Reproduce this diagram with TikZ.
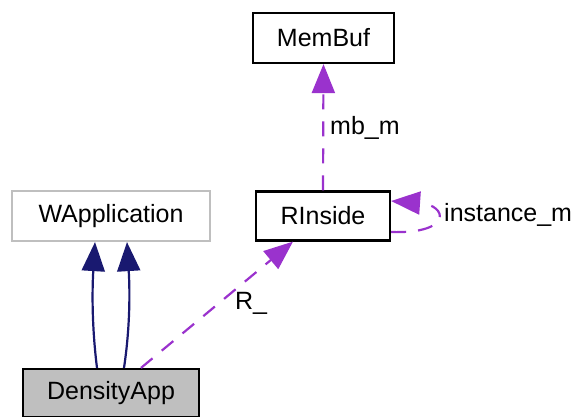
\documentclass[tikz,border=0pt]{standalone}
\usepackage{fontspec}
\setmainfont{Liberation Sans}
\usetikzlibrary{arrows.meta,calc}
\definecolor{navy}{HTML}{191970}
\definecolor{orch}{HTML}{9A32CD}
\definecolor{lgray}{HTML}{BFBFBF}
\begin{document}
\begin{tikzpicture}[x=1pt,y=-1pt,
  box/.style={draw=black,line width=2.2pt,inner sep=0pt,font=\fontsize{25}{30}\selectfont},
  inh/.style={draw=navy,line width=2.2pt,-{Triangle[length=29pt,width=23pt]}},
  use/.style={draw=orch,line width=2.2pt,dash pattern=on 15pt off 12pt,-{Triangle[length=29pt,width=23pt]}},
  lbl/.style={font=\fontsize{25}{30}\selectfont,inner sep=0pt}]
\useasboundingbox (0,0) rectangle (580,416);
\node[box,minimum width=141pt,minimum height=50pt] (m) at (323.5,38) {MemBuf};
\node[box,minimum width=134pt,minimum height=49pt] (r) at (323,216) {RInside};
\node[box,draw=lgray,minimum width=198pt,minimum height=50pt] (w) at (111,216) {WApplication};
\node[box,fill=lgray,minimum width=176pt,minimum height=48pt] (d) at (111,393) {DensityApp};
\draw[inh] ([xshift=-14pt]d.north) .. controls ($(d.north)+(-19,-40)$) and ($(w.south)+(-19,50)$) .. ([xshift=-16pt]w.south);
\draw[inh] ([xshift=13pt]d.north) .. controls ($(d.north)+(19,-40)$) and ($(w.south)+(19,50)$) .. ([xshift=16pt]w.south);
\draw[use] ([xshift=30pt]d.north) -- ([xshift=-30pt]r.south);
\draw[use] (r.north) -- (m.south);
\draw[use] ($(r.east)+(0,16)$) .. controls ($(r.east)+(62,18)$) and ($(r.east)+(57,-11)$) .. ($(r.east)+(0,-15)$);
\node[lbl] (l1) at (251,303) {R\_};
\node[lbl,anchor=west] (l2) at (330,128) {mb\_m};
\node[lbl,anchor=west] (l3) at (444,215) {instance\_m};
\end{tikzpicture}
\end{document}
